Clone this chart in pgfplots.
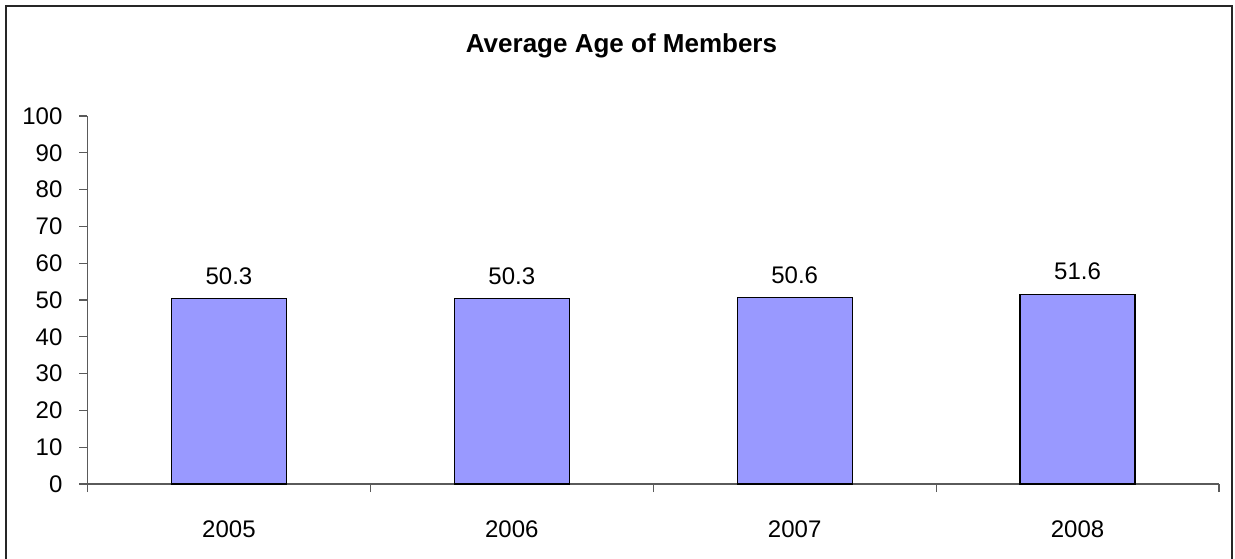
\documentclass[border=0pt]{standalone}
\usepackage{fontspec}
\setmainfont{Liberation Sans}
\usepackage{pgfplots}
\pgfplotsset{compat=1.18}
\definecolor{barfill}{RGB}{153,153,255}
\definecolor{axisgray}{RGB}{90,90,90}
\begin{document}
\begin{tikzpicture}
\useasboundingbox (0,0) rectangle (617.5pt,279pt);
% chart frame (open at the bottom edge)
\draw[line width=1.1pt, black!85] (3pt,-2pt) -- (3pt,276pt) -- (616pt,276pt) -- (616pt,-2pt);
\node[anchor=base, font=\bfseries\fontsize{13}{15}\selectfont] at (310.75pt,252.5pt) {Average Age of Members};
\begin{axis}[
  at={(43.75pt,37pt)}, anchor=south west,
  scale only axis, width=565.75pt, height=184pt,
  xmin=-0.5, xmax=3.5, ymin=0, ymax=100,
  axis x line*=bottom, axis y line*=left,
  axis line style={axisgray, line width=0.6pt},
  xtick={0,1,2,3},
  xticklabels={2005,2006,2007,2008},
  major x tick style={draw=none},
  minor xtick={-0.5,0.5,1.5,2.5,3.5},
  minor tick length=4pt,
  minor x tick style={axisgray, line width=0.6pt},
  ytick={0,10,...,100},
  major tick length=4pt,
  y tick style={axisgray, line width=0.6pt},
  tick align=outside,
  tick label style={font=\fontsize{12}{14}\selectfont},
  xticklabel style={yshift=-11pt},
  yticklabel style={xshift=-5pt},
  /pgf/number format/assume math mode=true,
]
\addplot[ybar, fill=barfill, draw=black, line width=0.6pt, bar width=57.5pt,
  nodes near coords,
  nodes near coords style={font=\fontsize{12}{14}\selectfont, yshift=3.5pt,
    /pgf/number format/fixed, /pgf/number format/precision=1,
    /pgf/number format/fixed zerofill, /pgf/number format/assume math mode=true}]
  coordinates {(0,50.3) (1,50.3) (2,50.6) (3,51.6)};
\end{axis}
\end{tikzpicture}
\end{document}
